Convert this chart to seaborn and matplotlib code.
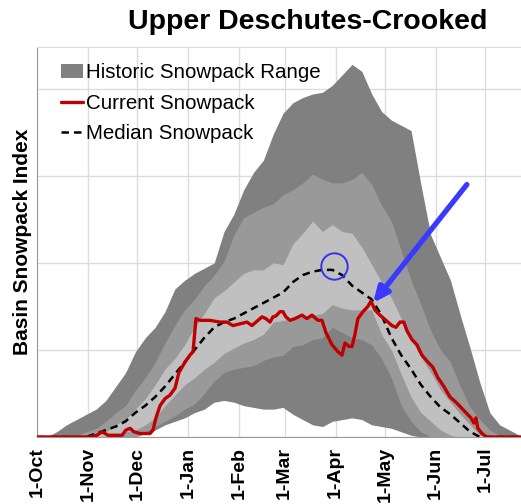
import numpy as np
import matplotlib
matplotlib.use("Agg")
import matplotlib.pyplot as plt
from matplotlib.patches import Patch
from matplotlib.lines import Line2D
import seaborn as sns

# days since 1-Oct, common grid for the historic bands
band_days = list(range(0, 295, 6))

max_swe = [0, 0, 0.3, 0.7, 1.0, 1.3, 1.6, 2.1, 2.9, 3.7, 4.9, 5.7, 6.3, 7.2, 8.5, 9.0, 9.4,
           9.7, 10.0, 11.8, 12.8, 14.2, 15.2, 15.9, 17.4, 18.6, 19.2, 19.5, 19.7, 19.8, 20.2,
           20.8, 21.4, 21.0, 19.7, 18.7, 18.2, 17.9, 17.6, 14.5, 11.6, 10.3, 9.0, 7.0, 5.1,
           3.1, 1.4, 0.7, 0.4, 0.1]
p90_swe = [0, 0, 0, 0, 0.1, 0.3, 0.5, 0.9, 1.4, 1.8, 2.7, 3.4, 4.3, 5.4, 6.4, 7.3, 7.9,
           8.7, 9.3, 10.1, 11.6, 12.6, 12.9, 13.2, 13.4, 13.9, 14.2, 14.6, 15.1, 14.8, 14.6,
           14.6, 14.8, 15.2, 14.5, 13.3, 12.4, 10.7, 9.0, 7.6, 6.1, 5.0, 4.3, 2.9, 1.7,
           1.0, 0.4, 0.1, 0, 0]
p70_swe = [0, 0, 0, 0, 0, 0, 0.1, 0.3, 0.7, 1.0, 1.6, 2.2, 3.0, 3.9, 4.5, 5.3, 6.3,
           7.1, 8.0, 8.4, 8.9, 9.4, 9.6, 9.6, 10.0, 9.9, 11.1, 11.7, 12.4, 11.8, 12.2,
           11.8, 11.7, 10.9, 9.9, 8.9, 8.0, 6.8, 5.6, 4.6, 3.7, 2.7, 2.0, 1.3, 0.7,
           0.1, 0, 0, 0, 0]
p30_swe = [0, 0, 0, 0, 0, 0, 0, 0, 0.1, 0.3, 0.4, 0.7, 1.1, 1.8, 2.4, 3.0, 3.4,
           3.9, 4.3, 4.8, 5.1, 5.4, 5.6, 5.9, 6.6, 6.7, 6.8, 6.9, 7.0, 7.1, 7.6,
           7.4, 7.3, 7.3, 7.3, 5.9, 5.0, 3.6, 2.3, 1.4, 0.9, 0.4, 0.1, 0, 0,
           0, 0, 0, 0, 0]
p10_swe = [0, 0, 0, 0, 0, 0, 0, 0, 0, 0, 0, 0.3, 0.6, 0.9, 1.2, 1.6, 1.9,
           2.5, 3.2, 3.7, 3.9, 4.0, 4.1, 4.4, 4.6, 4.7, 5.2, 5.3, 5.6, 5.7, 6.3,
           6.0, 5.7, 5.6, 5.3, 4.5, 3.4, 1.8, 0.9, 0.3, 0, 0, 0, 0, 0,
           0, 0, 0, 0, 0]
min_swe = [0, 0, 0, 0, 0, 0, 0, 0, 0, 0, 0, 0.2, 0.4, 0.7, 0.9, 1.1, 1.4,
           1.6, 2.0, 2.1, 2.0, 1.8, 1.7, 1.6, 1.6, 1.7, 1.3, 1.0, 0.7, 0.6, 0.9,
           1.0, 1.1, 1.0, 0.7, 0.6, 0.5, 0.3, 0.1, 0, 0, 0, 0, 0, 0,
           0, 0, 0, 0, 0]
median_swe = [0, 0, 0, 0, 0, 0, 0.2, 0.4, 0.6, 0.9, 1.4, 1.8, 2.3, 2.9, 3.6, 4.3, 5.0,
              5.7, 6.3, 6.6, 6.8, 7.1, 7.4, 7.7, 8.0, 8.3, 8.9, 9.3, 9.5, 9.6, 9.6,
              9.3, 8.7, 8.3, 7.9, 7.0, 5.7, 4.7, 3.9, 3.0, 2.3, 1.7, 1.3, 0.8, 0.3,
              0, 0, 0, 0, 0]

current_days = [0, 32.3, 36.6, 39.6, 43.3, 51.8, 54.2, 56.7, 59.1, 62.8, 68.9, 70.7, 72.5,
                75.0, 78.0, 81.0, 84.1, 86.5, 90.2, 93.2, 95.1, 96.9, 99.3, 105.4, 111.5,
                115.8, 119.4, 123.7, 128.0, 131.0, 134.7, 137.1, 139.5, 142.0, 143.8,
                145.6, 148.1, 149.9, 151.7, 154.2, 157.2, 161.5, 164.5, 167.6, 171.2,
                173.7, 176.1, 179.8, 183.4, 185.9, 187.7, 190.1, 192.0, 193.8, 195.6,
                198.7, 201.7, 203.5, 206.0, 209.0, 212.7, 216.3, 218.8, 221.2, 223.6,
                225.5, 228.5, 231.6, 234.6, 238.3, 241.3, 244.4, 248.0, 251.7, 255.3,
                258.4, 261.4, 264.5, 266.3, 267.5, 268.7, 271.2, 274.2, 295]
current_swe = [0, 0, 0.1, 0.3, 0.1, 0.1, 0.4, 0.5, 0.3, 0.2, 0.2, 0.4, 1.1,
               1.8, 2.2, 2.4, 2.8, 3.7, 4.3, 4.7, 4.9, 6.8, 6.7, 6.7, 6.6,
               6.6, 6.4, 6.5, 6.6, 6.4, 6.7, 6.9, 6.8, 6.6, 6.9,
               6.95, 7.2, 7.2, 6.9, 6.7, 6.8, 7.0, 6.8, 7.0, 6.7,
               6.7, 6.0, 5.3, 4.9, 4.7, 5.4, 5.2, 5.2, 5.9, 6.8,
               7.2, 7.5, 7.8, 7.3, 7.0, 6.7, 6.4, 6.3, 6.6, 6.6,
               6.1, 5.6, 5.3, 4.7, 4.3, 4.0, 3.4, 2.9, 2.3, 2.0,
               1.7, 1.4, 1.1, 0.8, 1.1, 0.5, 0.2, 0, 0]

month_days = [0, 31, 61, 92, 123, 151, 182, 212, 243, 273]
month_labels = ["1-Oct", "1-Nov", "1-Dec", "1-Jan", "1-Feb", "1-Mar", "1-Apr", "1-May", "1-Jun", "1-Jul"]

sns.set_style("white")
plt.rcParams["font.family"] = ["Liberation Sans", "DejaVu Sans"]
plt.rcParams["text.color"] = "black"
plt.rcParams["xtick.color"] = "black"

fig = plt.figure(figsize=(5.21, 5.04), dpi=100)
ax = fig.add_axes([37 / 521, 67 / 504, 484 / 521, 390 / 504])

dark, mid, light = "#808080", "#999999", "#c0c0c0"
ax.fill_between(band_days, min_swe, max_swe, color=dark, lw=0, zorder=2)
ax.fill_between(band_days, p10_swe, p90_swe, color=mid, lw=0, zorder=2)
ax.fill_between(band_days, p30_swe, p70_swe, color=light, lw=0, zorder=2)

sns.lineplot(x=band_days, y=median_swe, ax=ax, color="black", lw=1.8,
             linestyle=(0, (3, 2)), zorder=4)
sns.lineplot(x=current_days, y=current_swe, ax=ax, color="#c00000", lw=2.4, zorder=5)

# highlight of median peak and arrow to current peak
ax.plot([181], [9.8], marker="o", ms=19, mfc="none", mec="#3333ee", mew=1.4, zorder=6)
ax.annotate("", xy=(204.8, 7.7), xytext=(262, 14.5),
            arrowprops=dict(arrowstyle="-|>,head_width=0.4,head_length=0.9",
                            color="#3a3aff", lw=3.8, shrinkA=0, shrinkB=0),
            zorder=7)

ax.set_xlim(0, 295)
ax.set_ylim(0, 22.4)
ax.set_xticks(month_days)
ax.set_xticklabels(month_labels, rotation=90, fontsize=14, fontweight="bold", color="black")
ax.set_yticks([0, 5, 10, 15, 20])
ax.set_yticklabels([])
ax.tick_params(axis="both", direction="out", length=5, width=1, color="#999999", pad=2)
ax.grid(True, color="#dcdcdc", lw=1)
ax.set_axisbelow(True)
for s in ["left", "bottom"]:
    ax.spines[s].set_color("#999999")
ax.spines["top"].set_color("#dcdcdc")
ax.spines["right"].set_visible(False)

fig.text(23 / 521, 1 - 242 / 504, "Basin Snowpack Index", fontsize=15, color="black",
         fontweight="bold", rotation=90, ha="center", va="center")

handles = [Patch(facecolor=dark, edgecolor="none"),
           Line2D([], [], color="#c00000", lw=2.4),
           Line2D([], [], color="black", lw=1.8, linestyle=(0, (3, 2)))]
leg = ax.legend(handles, ["Historic Snowpack Range", "Current Snowpack", "Median Snowpack"],
                loc="upper left", bbox_to_anchor=(0.05, 0.959), frameon=False, fontsize=14.8,
                handlelength=1.05, handletextpad=0.15, labelspacing=0.57, borderpad=0,
                borderaxespad=0)
for t in leg.get_texts():
    t.set_color("black")

fig.text(308 / 521, 1 - 22 / 504, "Upper Deschutes-Crooked", fontsize=20.5, color="black",
         fontweight="bold", ha="center", va="center")

fig.savefig("out.png", dpi=100)
